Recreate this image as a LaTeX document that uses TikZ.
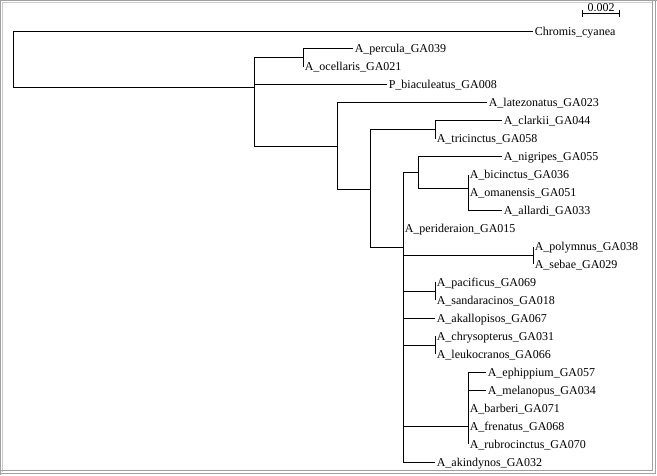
\documentclass[tikz,border=0pt]{standalone}
\usepackage{fontspec}
\setmainfont{Liberation Serif}
\usetikzlibrary{arrows.meta}
\definecolor{framegray}{RGB}{160,160,160}
\definecolor{framelight}{RGB}{205,205,205}

\begin{document}
\begin{tikzpicture}[x=1pt,y=-1pt,
  taxon/.style={anchor=west,inner xsep=1.6pt,inner ysep=0pt,text height=8pt,text depth=0pt,
    font=\fontsize{12}{14}\selectfont},
  branch/.style={line width=1pt}]

\useasboundingbox (0,0) rectangle (657,475);
\fill[white] (0,0) rectangle (657,475);
\draw[framegray,line width=1.2pt] (0.8,475) -- (0.8,0.8) -- (657,0.8);
\draw[framelight,line width=1pt] (2.5,472) -- (2.5,2.5) -- (652,2.5);
\draw[framegray,line width=1pt] (652,0) -- (652,470.5) -- (0,470.5);
\draw[framegray,line width=1pt] (655.5,0) -- (655.5,473.5) -- (0,473.5);

\node[taxon] (chromis) at (533.000000,31.000000) {Chromis\_cyanea};
\node[taxon] (percula) at (353.000000,48.960000) {A\_percula\_GA039};
\node[taxon] (ocellaris) at (303.000000,66.920000) {A\_ocellaris\_GA021};
\node[taxon] (biaculeatus) at (387.000000,84.880000) {P\_biaculeatus\_GA008};
\node[taxon] (latezonatus) at (487.000000,102.840000) {A\_latezonatus\_GA023};
\node[taxon] (clarkii) at (502.000000,120.800000) {A\_clarkii\_GA044};
\node[taxon] (tricinctus) at (435.000000,138.760000) {A\_tricinctus\_GA058};
\node[taxon] (nigripes) at (502.000000,156.720000) {A\_nigripes\_GA055};
\node[taxon] (bicinctus) at (468.000000,174.680000) {A\_bicinctus\_GA036};
\node[taxon] (omanensis) at (468.000000,192.640000) {A\_omanensis\_GA051};
\node[taxon] (allardi) at (502.000000,210.600000) {A\_allardi\_GA033};
\node[taxon] (perideraion) at (403.000000,228.560000) {A\_perideraion\_GA015};
\node[taxon] (polymnus) at (533.000000,246.520000) {A\_polymnus\_GA038};
\node[taxon] (sebae) at (533.000000,264.480000) {A\_sebae\_GA029};
\node[taxon] (pacificus) at (435.000000,282.440000) {A\_pacificus\_GA069};
\node[taxon] (sandaracinos) at (435.000000,300.400000) {A\_sandaracinos\_GA018};
\node[taxon] (akallopisos) at (435.000000,318.360000) {A\_akallopisos\_GA067};
\node[taxon] (chrysopterus) at (435.000000,336.320000) {A\_chrysopterus\_GA031};
\node[taxon] (leukocranos) at (435.000000,354.280000) {A\_leukocranos\_GA066};
\node[taxon] (ephippium) at (486.000000,372.240000) {A\_ephippium\_GA057};
\node[taxon] (melanopus) at (486.000000,390.200000) {A\_melanopus\_GA034};
\node[taxon] (barberi) at (468.000000,408.160000) {A\_barberi\_GA071};
\node[taxon] (frenatus) at (468.000000,426.120000) {A\_frenatus\_GA068};
\node[taxon] (rubrocinctus) at (468.000000,444.080000) {A\_rubrocinctus\_GA070};
\node[taxon] (akindynos) at (435.000000,462.040000) {A\_akindynos\_GA032};

\coordinate (root) at (13.000000,87.300000);
\coordinate (ingroup) at (254.500000,87.300000);
\coordinate (clown) at (303.000000,57.940000);
\coordinate (amphi) at (337.000000,146.300000);
\coordinate (core) at (370.000000,189.000000);
\coordinate (clarkiigrp) at (435.000000,129.780000);
\coordinate (crown) at (403.000000,247.700000);
\coordinate (nigripesgrp) at (418.000000,172.500000);
\coordinate (bicinctusgrp) at (468.000000,188.300000);
\coordinate (polymnusgrp) at (533.000000,255.500000);
\coordinate (pacificusgrp) at (435.000000,291.420000);
\coordinate (chrysopterusgrp) at (435.000000,345.300000);
\coordinate (ephippiumgrp) at (468.000000,426.120000);

\draw[branch] (root) |- (chromis.west);
\draw[branch] (root) -- (ingroup);
\draw[branch] (ingroup) |- (clown);
\draw[branch] (ingroup) |- (biaculeatus.west);
\draw[branch] (ingroup) |- (amphi);
\draw[branch] (clown) |- (percula.west);
\draw[branch] (clown) |- (ocellaris.west);
\draw[branch] (amphi) |- (latezonatus.west);
\draw[branch] (amphi) |- (core);
\draw[branch] (core) |- (clarkiigrp);
\draw[branch] (core) |- (crown);
\draw[branch] (clarkiigrp) |- (clarkii.west);
\draw[branch] (clarkiigrp) |- (tricinctus.west);
\draw[branch] (crown) |- (nigripesgrp);
\draw[branch] (crown) |- (perideraion.west);
\draw[branch] (crown) |- (polymnusgrp);
\draw[branch] (crown) |- (pacificusgrp);
\draw[branch] (crown) |- (akallopisos.west);
\draw[branch] (crown) |- (chrysopterusgrp);
\draw[branch] (crown) |- (ephippiumgrp);
\draw[branch] (crown) |- (akindynos.west);
\draw[branch] (nigripesgrp) |- (nigripes.west);
\draw[branch] (nigripesgrp) |- (bicinctusgrp);
\draw[branch] (bicinctusgrp) |- (bicinctus.west);
\draw[branch] (bicinctusgrp) |- (omanensis.west);
\draw[branch] (bicinctusgrp) |- (allardi.west);
\draw[branch] (polymnusgrp) |- (polymnus.west);
\draw[branch] (polymnusgrp) |- (sebae.west);
\draw[branch] (pacificusgrp) |- (pacificus.west);
\draw[branch] (pacificusgrp) |- (sandaracinos.west);
\draw[branch] (chrysopterusgrp) |- (chrysopterus.west);
\draw[branch] (chrysopterusgrp) |- (leukocranos.west);
\draw[branch] (ephippiumgrp) |- (ephippium.west);
\draw[branch] (ephippiumgrp) |- (melanopus.west);
\draw[branch] (ephippiumgrp) |- (barberi.west);
\draw[branch] (ephippiumgrp) |- (frenatus.west);
\draw[branch] (ephippiumgrp) |- (rubrocinctus.west);

\coordinate (barleft) at (582.000000,13.500000);
\coordinate (barright) at (620.000000,13.500000);
\node[anchor=base,inner sep=0pt,font=\fontsize{12}{14}\selectfont] (scalelabel) at (601.000000,11.500000) {0.002};
\draw[branch,{Bar[width=7pt]}-{Bar[width=7pt]}] (barleft) -- (barright);
\end{tikzpicture}
\end{document}
